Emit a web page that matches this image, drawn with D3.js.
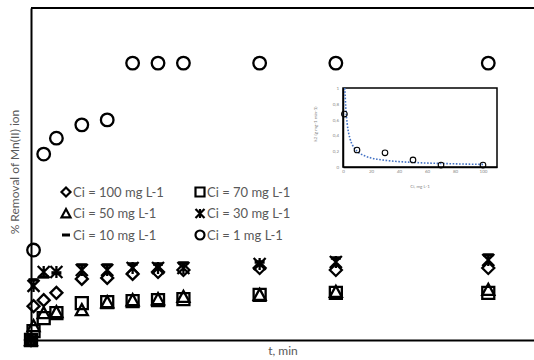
<!DOCTYPE html>
<html>
<head>
<meta charset="utf-8">
<script src="https://cdn.jsdelivr.net/npm/d3@7"></script>
<style>
  body { margin: 0; background: #fff; }
  text { font-family: Lato, "Open Sans", sans-serif; }
</style>
</head>
<body>
<div id="chart"></div>
<script>
// time points (min)
var times = [0, 1, 5, 10, 20, 30, 40, 50, 60, 90, 120, 180];

// % removal for each initial concentration (null = no point)
var ci100 = [0, 10.2, 12.0, 14.2, 18.4, 18.7, 19.9, 20.5, 21.1, 21.7, 21.1, 21.7];
var ci70  = [0, 2.7, 6.6, 8.1, 11.1, 11.4, 11.7, 12.0, 12.3, 13.6, 14.2, 14.2];
var ci50  = [0, 4.2, 8.1, 8.4, 9.0, 11.4, 12.0, 12.3, 13.0, 13.6, 14.5, 15.1];
var ci30  = [0, 16.3, 20.5, 20.5, 21.1, 21.1, 21.7, 21.7, 21.7, 22.9, 23.5, 24.1];
var ci10  = [0, 18.1, 19.0, 20.2, 22.6, 22.6, 22.9, 22.9, 23.2, 23.5, 24.7, 25.6];
var ci1   = [null, 27.1, 56.0, 60.8, 64.8, 66.3, 83.4, 83.4, 83.4, 83.4, 83.4, 83.4];

var seriesNames = ["Ci = 100 mg L-1", "Ci = 70 mg L-1", "Ci = 50 mg L-1",
                   "Ci = 30 mg L-1", "Ci = 10 mg L-1", "Ci = 1 mg L-1"];

// inset: k2 vs Ci
var insetCi = [1, 10, 30, 50, 70, 100];
var insetK2 = [0.67, 0.215, 0.18, 0.09, 0.025, 0.025];
// dotted trend line
var trendCi = [1.3, 2, 3, 5, 7, 10, 15, 20, 30, 40, 50, 60, 70, 80, 90, 100];
var trendK2 = [1.0, 0.75, 0.55, 0.36, 0.27, 0.2, 0.145, 0.115, 0.085, 0.068, 0.058, 0.05, 0.045, 0.04, 0.036, 0.033];
var insetXTicks = [0, 20, 40, 60, 80, 100];
var insetYTicks = [0, 0.2, 0.4, 0.6, 0.8, 1];

var svgWidth = 534, svgHeight = 360;
var svg = d3.select("#chart").append("svg")
    .attr("width", svgWidth)
    .attr("height", svgHeight);

// main scales
var xScale = d3.scaleLinear().domain([0, 198]).range([31, 534]);
var yScale = d3.scaleLinear().domain([0, 100]).range([340, 8]);

// marker shapes
function markerPath(type, s) {
    if (type == "diamond") return `M0,${-s}L${s},0L0,${s}L${-s},0Z`;
    if (type == "square") return `M${-s},${-s}H${s}V${s}H${-s}Z`;
    if (type == "triangle") return `M0,${-s}L${s},${s*0.85}H${-s}Z`;
    if (type == "star") return `M${-s},${-s}L${s},${s}M${-s},${s}L${s},${-s}M0,${-s}V${s}`;
    if (type == "dash") return `M${-s},0H${s}`;
    if (type == "circle") return d3.arc()({innerRadius: 0, outerRadius: s, startAngle: 0, endAngle: 2 * Math.PI});
}
var markerTypes = ["diamond", "square", "triangle", "star", "dash", "circle"];
var allSeries = [ci100, ci70, ci50, ci30, ci10, ci1];

// plot frame
svg.append("line").attr("x1", 31).attr("x2", 534).attr("y1", 8).attr("y2", 8)
    .attr("stroke", "#000").attr("stroke-width", 2);
svg.append("g")
    .attr("transform", "translate(0,340)")
    .call(d3.axisBottom(xScale).ticks(0).tickSize(0))
    .select(".domain").attr("stroke", "#000").attr("stroke-width", 2);
svg.append("g")
    .attr("transform", "translate(31,0)")
    .call(d3.axisLeft(yScale).ticks(0).tickSize(0))
    .select(".domain").attr("stroke", "#000").attr("stroke-width", 2);

// draw the series
allSeries.forEach(function(vals, k) {
    var type = markerTypes[k];
    var pts = times.map((t, i) => ({t: t, v: vals[i]})).filter(d => d.v != null);
    svg.append("g").selectAll("path")
        .data(pts)
        .enter()
        .append("path")
        .attr("transform", d => `translate(${xScale(d.t)},${yScale(d.v)})`)
        .attr("d", markerPath(type, type == "circle" ? 6.3 : (type == "dash" ? 5 : 6)))
        .attr("fill", "none")
        .attr("stroke", "#000")
        .attr("stroke-width", type == "dash" ? 3.5 : 2.3);
});

// legend
var legend = svg.append("g");
seriesNames.forEach(function(name, k) {
    var col = k % 2, row = Math.floor(k / 2);
    var lx = 66 + col * 134, ly = 192 + row * 21.5;
    var type = markerTypes[k];
    legend.append("path")
        .attr("transform", `translate(${lx},${ly})`)
        .attr("d", markerPath(type, type == "dash" ? 4 : 4.5))
        .attr("fill", "none")
        .attr("stroke", "#000")
        .attr("stroke-width", type == "dash" ? 3 : 2.2);
    legend.append("text")
        .attr("x", lx + 7)
        .attr("y", ly + 4.5)
        .attr("font-size", "13px")
        .attr("fill", "#595959")
        .text(name);
});

// axis titles
svg.append("text")
    .attr("transform", "translate(283,355)")
    .attr("text-anchor", "middle")
    .attr("font-size", "12px")
    .attr("fill", "#595959")
    .text("t, min");
svg.append("text")
    .attr("transform", "translate(19,172) rotate(-90)")
    .attr("text-anchor", "middle")
    .attr("font-size", "12px")
    .attr("fill", "#595959")
    .text("% Removal of Mn(II) ion");

// inset chart
var ix = d3.scaleLinear().domain([0, 110]).range([343, 497]);
var iy = d3.scaleLinear().domain([0, 1]).range([167, 88]);
var inset = svg.append("g");
inset.append("rect")
    .attr("x", 343).attr("y", 88).attr("width", 154).attr("height", 79)
    .attr("fill", "#fff").attr("stroke", "#000").attr("stroke-width", 1.5);

var ixAxis = inset.append("g")
    .attr("transform", "translate(0,167)")
    .call(d3.axisBottom(ix).tickValues(insetXTicks).tickSize(0).tickPadding(3));
ixAxis.select(".domain").attr("stroke", "#000").attr("stroke-width", 1.5);
ixAxis.selectAll("text").attr("font-size", "4.5px").attr("fill", "#888");

var iyAxis = inset.append("g")
    .attr("transform", "translate(343,0)")
    .call(d3.axisLeft(iy).tickValues(insetYTicks).tickSize(0).tickPadding(4)
        .tickFormat(d => String(d).replace(".", ",")));
iyAxis.select(".domain").attr("stroke", "#000").attr("stroke-width", 1.5);
iyAxis.selectAll("text").attr("font-size", "4.5px").attr("fill", "#888");

// dotted trend line
var trendLine = d3.line()
    .x((d, i) => ix(trendCi[i]))
    .y(d => iy(d))
    .curve(d3.curveMonotoneX);
inset.append("path")
    .attr("d", trendLine(trendK2))
    .attr("fill", "none")
    .attr("stroke", "#4472C4")
    .attr("stroke-width", 1.6)
    .attr("stroke-dasharray", "1.6,1.6");

inset.selectAll(".ipt")
    .data(insetK2)
    .enter()
    .append("circle")
    .attr("cx", (d, i) => ix(insetCi[i]))
    .attr("cy", d => iy(d))
    .attr("r", 2.8)
    .attr("fill", "none")
    .attr("stroke", "#000")
    .attr("stroke-width", 1.1);

inset.append("text")
    .attr("x", 420).attr("y", 188)
    .attr("text-anchor", "middle")
    .attr("font-size", "4.5px")
    .attr("fill", "#888")
    .text("Ci, mg L-1");
inset.append("text")
    .attr("transform", "translate(317,124) rotate(-90)")
    .attr("text-anchor", "middle")
    .attr("font-size", "4.5px")
    .attr("fill", "#888")
    .text("k2 (g mg-1 min-1)");
</script>
</body>
</html>
